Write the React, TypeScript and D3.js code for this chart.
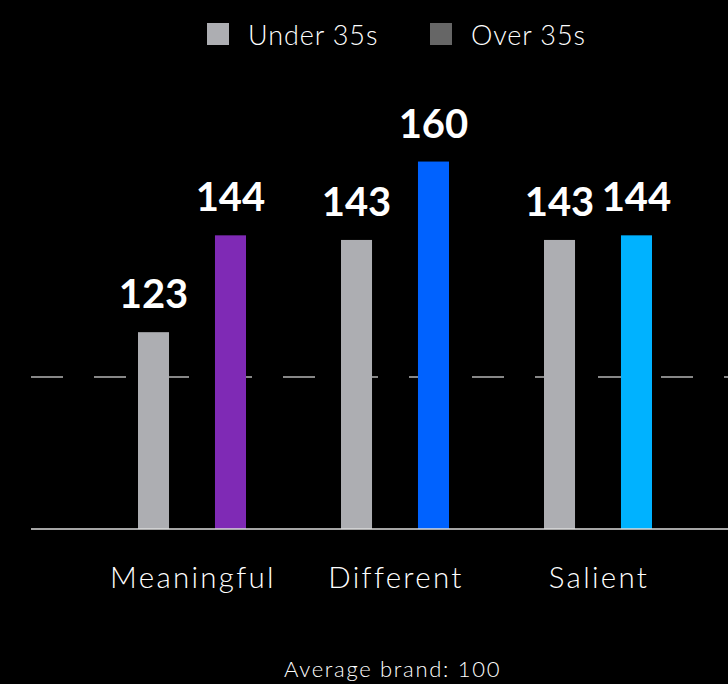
import React from "react";
import * as d3 from "d3";

const categories = ["Meaningful", "Different", "Salient"];
const seriesNames = ["Under 35s", "Over 35s"];
const under35 = [123, 143, 143];
const over35 = [144, 160, 144];
const over35Colors = ["#7f2ab5", "#0062ff", "#00b2ff"];
const under35Color = "#adaeb2";
const legendColors = ["#adaeb2", "#666666"];
const averageValue = 100;
const footnote = "Average brand: 100";

const W = 728;
const H = 684;

export default function App() {
  const x0 = d3.scaleBand<string>().domain(categories).range([90.5, 699.5]).paddingInner(0).paddingOuter(0);
  const x1 = d3.scaleBand<string>().domain(seriesNames).range([-54, 54]).paddingInner(0.597).paddingOuter(0);
  // Axis with a compressed lower section (values below ~120 are drawn condensed)
  const y = d3.scaleLinear().domain([0, 100, 120, 165]).range([529, 377, 346, 138.5]);

  const boldFont = "Lato, 'Open Sans', sans-serif";
  const lightFont = "Lato, 'Open Sans', sans-serif";

  const bars: { cat: string; s: string; v: number; color: string }[] = [];
  categories.forEach((c, i) => {
    bars.push({ cat: c, s: seriesNames[0], v: under35[i], color: under35Color });
    bars.push({ cat: c, s: seriesNames[1], v: over35[i], color: over35Colors[i] });
  });

  const legendX = [207, 430];

  return (
    <svg width={W} height={H} style={{ position: "absolute", left: 0, top: 0, background: "#000" }}>
      <rect x={0} y={0} width={W} height={H} fill="#000" />
      {/* legend */}
      {seriesNames.map((s, i) => (
        <g key={s}>
          <rect x={legendX[i]} y={23} width={22} height={22} fill={legendColors[i]} />
          <text x={legendX[i] + 41} y={44.5} fill="#fff" fontFamily={lightFont} fontWeight={300} fontSize={27} letterSpacing={0.9}>
            {s}
          </text>
        </g>
      ))}
      {/* average dashed line */}
      <line x1={31} x2={W} y1={y(averageValue)} y2={y(averageValue)} stroke="#b4b4b4" strokeWidth={1.3} strokeDasharray="32 31" />
      {/* bars */}
      {bars.map((b) => {
        const cx = (x0(b.cat) ?? 0) + x0.bandwidth() / 2;
        const bx = cx + (x1(b.s) ?? 0);
        return (
          <g key={b.cat + b.s}>
            <rect x={bx} y={y(b.v)} width={x1.bandwidth()} height={y(0) - y(b.v)} fill={b.color} />
            <text
              x={bx + x1.bandwidth() / 2}
              y={y(b.v) - 24}
              textAnchor="middle"
              fill="#fff"
              fontFamily={boldFont}
              fontWeight={700}
              fontSize={40}
            >
              {b.v}
            </text>
          </g>
        );
      })}
      {/* baseline */}
      <line x1={31} x2={W} y1={y(0)} y2={y(0)} stroke="#dddddd" strokeWidth={1.3} />
      {/* category labels */}
      {categories.map((c) => (
        <text
          key={c}
          x={(x0(c) ?? 0) + x0.bandwidth() / 2 + 1}
          y={588}
          textAnchor="middle"
          fill="#fff"
          fontFamily={lightFont}
          fontWeight={300}
          fontSize={29.5}
          letterSpacing={2.3}
        >
          {c}
        </text>
      ))}
      <text x={392.5} y={677} textAnchor="middle" fill="#fff" fontFamily={lightFont} fontWeight={300} fontSize={22} letterSpacing={1.7}>
        {footnote}
      </text>
    </svg>
  );
}
